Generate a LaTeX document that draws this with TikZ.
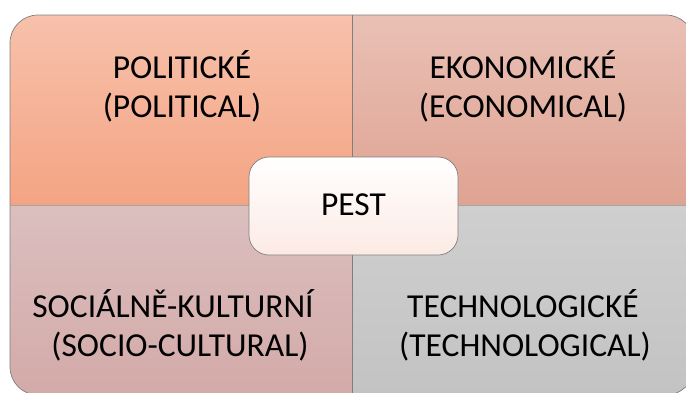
\documentclass[tikz,border=0pt]{standalone}
\usepackage{fontspec}
\setmainfont{Carlito}
\definecolor{tlTop}{HTML}{F7C1AB}
\definecolor{tlBot}{HTML}{F4A483}
\definecolor{trTop}{HTML}{E9C0B5}
\definecolor{trBot}{HTML}{DFA392}
\definecolor{blTop}{HTML}{DBBFBF}
\definecolor{blBot}{HTML}{D3AAA8}
\definecolor{brTop}{HTML}{CFCFCF}
\definecolor{brBot}{HTML}{C3C3C3}
\definecolor{ctrBot}{HTML}{FCEAE4}
\definecolor{lineGray}{HTML}{7F7F7F}
\tikzset{
  lbl/.style={anchor=base, inner sep=0pt, font=\fontsize{33.5}{40}\selectfont, text=black},
  quadline/.style={draw=lineGray, line width=0.7pt},
}
\begin{document}
\begin{tikzpicture}[x=1pt,y=1pt]
\useasboundingbox (0,0) rectangle (686,-392);
\clip (0,0) rectangle (686,-392);
% quadrant fills
\begin{scope}
  \clip[rounded corners=28pt] (10,-15) rectangle (694,-395);
  \shade[top color=tlTop, bottom color=tlBot] (10,-15) rectangle (352,-205);
  \shade[top color=trTop, bottom color=trBot] (352,-15) rectangle (694,-205);
  \shade[top color=blTop, bottom color=blBot] (10,-205) rectangle (352,-395);
  \shade[top color=brTop, bottom color=brBot] (352,-205) rectangle (694,-395);
\end{scope}
% outlines
\draw[quadline, rounded corners=28pt] (10,-15) rectangle (694,-395);
\coordinate (vt) at (352,-15);
\coordinate (vb) at (352,-395);
\coordinate (hl) at (10,-205);
\coordinate (hr) at (694,-205);
\draw[quadline] (vt) -- (vb);
\draw[quadline, draw=lineGray!70] (hl) -- (hr);
% labels
\node[lbl] (pol1) at (182,-78) {POLITICKÉ};
\node[lbl] (pol2) at (182,-117) {(POLITICAL)};
\node[lbl] (eko1) at (523,-78) {EKONOMICKÉ};
\node[lbl] (eko2) at (523,-117) {(ECONOMICAL)};
\node[lbl] (soc1) at (173,-317) {SOCIÁLNĚ-KULTURNÍ};
\node[lbl] (soc2) at (180,-356) {(SOCIO-CULTURAL)};
\node[lbl] (tec1) at (523,-317) {TECHNOLOGICKÉ};
\node[lbl] (tec2) at (525,-356) {(TECHNOLOGICAL)};
% center
\shade[top color=white, bottom color=ctrBot, draw=lineGray, line width=0.7pt, rounded corners=20pt]
  (249,-157) rectangle (458,-255);
\node[lbl] (pest) at (353.5,-215) {PEST};
\end{tikzpicture}
\end{document}
